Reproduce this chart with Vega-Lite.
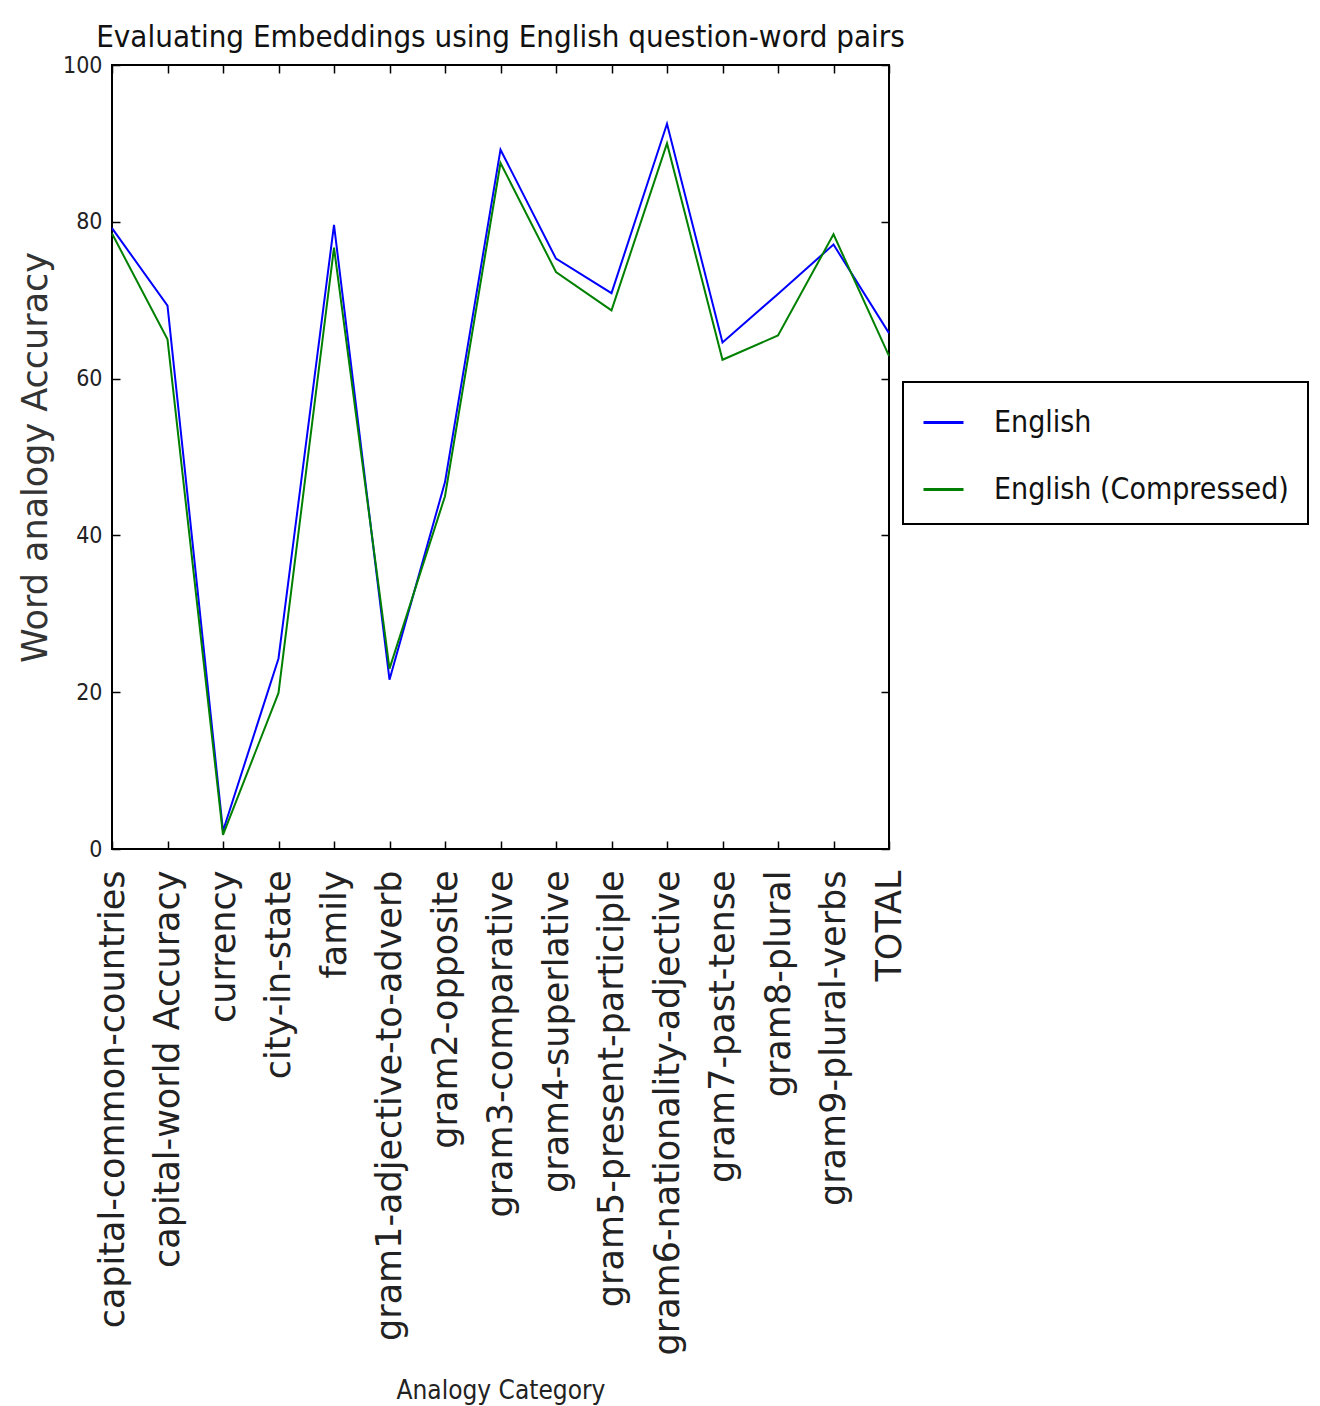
{
  "$schema": "https://vega.github.io/schema/vega-lite/v6.json",
  "width": 777,
  "height": 784,
  "autosize": "none",
  "padding": {"left": 112, "top": 65, "right": 431, "bottom": 557},
  "background": "white",
  "title": {
    "text": "Evaluating Embeddings using English question-word pairs",
    "font": "DejaVu Sans Condensed",
    "fontSize": 31,
    "fontWeight": "normal",
    "color": "#111111",
    "anchor": "middle",
    "frame": "group",
    "offset": 0
  },
  "data": {
    "values": [
      {"category": "capital-common-countries", "series": "English", "accuracy": 79.2},
      {"category": "capital-world Accuracy", "series": "English", "accuracy": 69.3},
      {"category": "currency", "series": "English", "accuracy": 2.3},
      {"category": "city-in-state", "series": "English", "accuracy": 24.3},
      {"category": "family", "series": "English", "accuracy": 79.6},
      {"category": "gram1-adjective-to-adverb", "series": "English", "accuracy": 21.6},
      {"category": "gram2-opposite", "series": "English", "accuracy": 46.8},
      {"category": "gram3-comparative", "series": "English", "accuracy": 89.2},
      {"category": "gram4-superlative", "series": "English", "accuracy": 75.3},
      {"category": "gram5-present-participle", "series": "English", "accuracy": 70.9},
      {"category": "gram6-nationality-adjective", "series": "English", "accuracy": 92.5},
      {"category": "gram7-past-tense", "series": "English", "accuracy": 64.6},
      {"category": "gram8-plural", "series": "English", "accuracy": 70.8},
      {"category": "gram9-plural-verbs", "series": "English", "accuracy": 77.1},
      {"category": "TOTAL", "series": "English", "accuracy": 65.8},
      {"category": "capital-common-countries", "series": "English (Compressed)", "accuracy": 78.5},
      {"category": "capital-world Accuracy", "series": "English (Compressed)", "accuracy": 65.0},
      {"category": "currency", "series": "English (Compressed)", "accuracy": 1.8},
      {"category": "city-in-state", "series": "English (Compressed)", "accuracy": 19.9},
      {"category": "family", "series": "English (Compressed)", "accuracy": 76.7},
      {"category": "gram1-adjective-to-adverb", "series": "English (Compressed)", "accuracy": 23.0},
      {"category": "gram2-opposite", "series": "English (Compressed)", "accuracy": 45.0},
      {"category": "gram3-comparative", "series": "English (Compressed)", "accuracy": 87.5},
      {"category": "gram4-superlative", "series": "English (Compressed)", "accuracy": 73.6},
      {"category": "gram5-present-participle", "series": "English (Compressed)", "accuracy": 68.7},
      {"category": "gram6-nationality-adjective", "series": "English (Compressed)", "accuracy": 90.0},
      {"category": "gram7-past-tense", "series": "English (Compressed)", "accuracy": 62.4},
      {"category": "gram8-plural", "series": "English (Compressed)", "accuracy": 65.5},
      {"category": "gram9-plural-verbs", "series": "English (Compressed)", "accuracy": 78.4},
      {"category": "TOTAL", "series": "English (Compressed)", "accuracy": 62.9}
    ]
  },
  "layer": [
    {
      "mark": {"type": "line", "strokeWidth": 2},
      "encoding": {
        "x": {
          "field": "category",
          "type": "nominal",
          "sort": null,
          "scale": {"type": "point", "padding": 0},
          "axis": {
            "orient": "bottom",
            "title": "Analogy Category",
            "titleFont": "DejaVu Sans Condensed",
            "titleFontSize": 26,
            "titleFontWeight": "normal",
            "titleColor": "#222222",
            "titleBaseline": "middle",
            "titleY": 541,
            "labelFont": "DejaVu Sans",
            "labelFontSize": 35,
            "labelAngle": -90,
            "labelColor": "#222222",
            "labelPadding": 29,
            "labelLimit": 1000,
            "labelOverlap": false,
            "tickSize": -8,
            "tickColor": "#000000",
            "tickWidth": 1.5,
            "domain": false,
            "grid": false
          }
        },
        "y": {
          "field": "accuracy",
          "type": "quantitative",
          "scale": {"domain": [0, 100], "nice": false},
          "axis": {
            "orient": "left",
            "title": "Word analogy Accuracy",
            "titleFont": "DejaVu Sans",
            "titleFontSize": 35,
            "titleFontWeight": "normal",
            "titleColor": "#333333",
            "titlePadding": 9,
            "labelFont": "DejaVu Sans Condensed",
            "labelFontSize": 23,
            "labelColor": "#222222",
            "labelPadding": 18,
            "values": [0, 20, 40, 60, 80, 100],
            "tickSize": -8,
            "tickColor": "#000000",
            "tickWidth": 1.5,
            "domain": false,
            "grid": false
          }
        },
        "color": {
          "field": "series",
          "type": "nominal",
          "sort": ["English", "English (Compressed)"],
          "scale": {"range": ["#0000ff", "#008000"]},
          "legend": {
            "title": null,
            "orient": "none",
            "legendX": 791,
            "legendY": 317,
            "padding": 19,
            "strokeColor": "#000000",
            "symbolType": "stroke",
            "symbolSize": 1600,
            "symbolStrokeWidth": 3,
            "labelFont": "DejaVu Sans Condensed",
            "labelFontSize": 30,
            "labelColor": "#111111",
            "labelOffset": 29,
            "labelLimit": 1000,
            "rowPadding": 30,
            "encode": {"legend": {"update": {"strokeWidth": {"value": 2}}}}
          }
        }
      }
    },
    {
      "mark": {"type": "line", "opacity": 0},
      "encoding": {
        "x": {
          "field": "category",
          "type": "nominal",
          "sort": null,
          "scale": {"type": "point", "padding": 0},
          "axis": {
            "orient": "top",
            "title": null,
            "labels": false,
            "tickSize": -8,
            "tickColor": "#000000",
            "tickWidth": 1.5,
            "domain": false,
            "grid": false
          }
        },
        "y": {
          "field": "accuracy",
          "type": "quantitative",
          "scale": {"domain": [0, 100], "nice": false},
          "axis": {
            "orient": "right",
            "title": null,
            "labels": false,
            "values": [0, 20, 40, 60, 80, 100],
            "tickSize": -8,
            "tickColor": "#000000",
            "tickWidth": 1.5,
            "domain": false,
            "grid": false
          }
        },
        "detail": {"field": "series", "type": "nominal"}
      }
    }
  ],
  "resolve": {"axis": {"x": "independent", "y": "independent"}},
  "config": {
    "view": {"stroke": "#000000", "strokeWidth": 2}
  }
}
